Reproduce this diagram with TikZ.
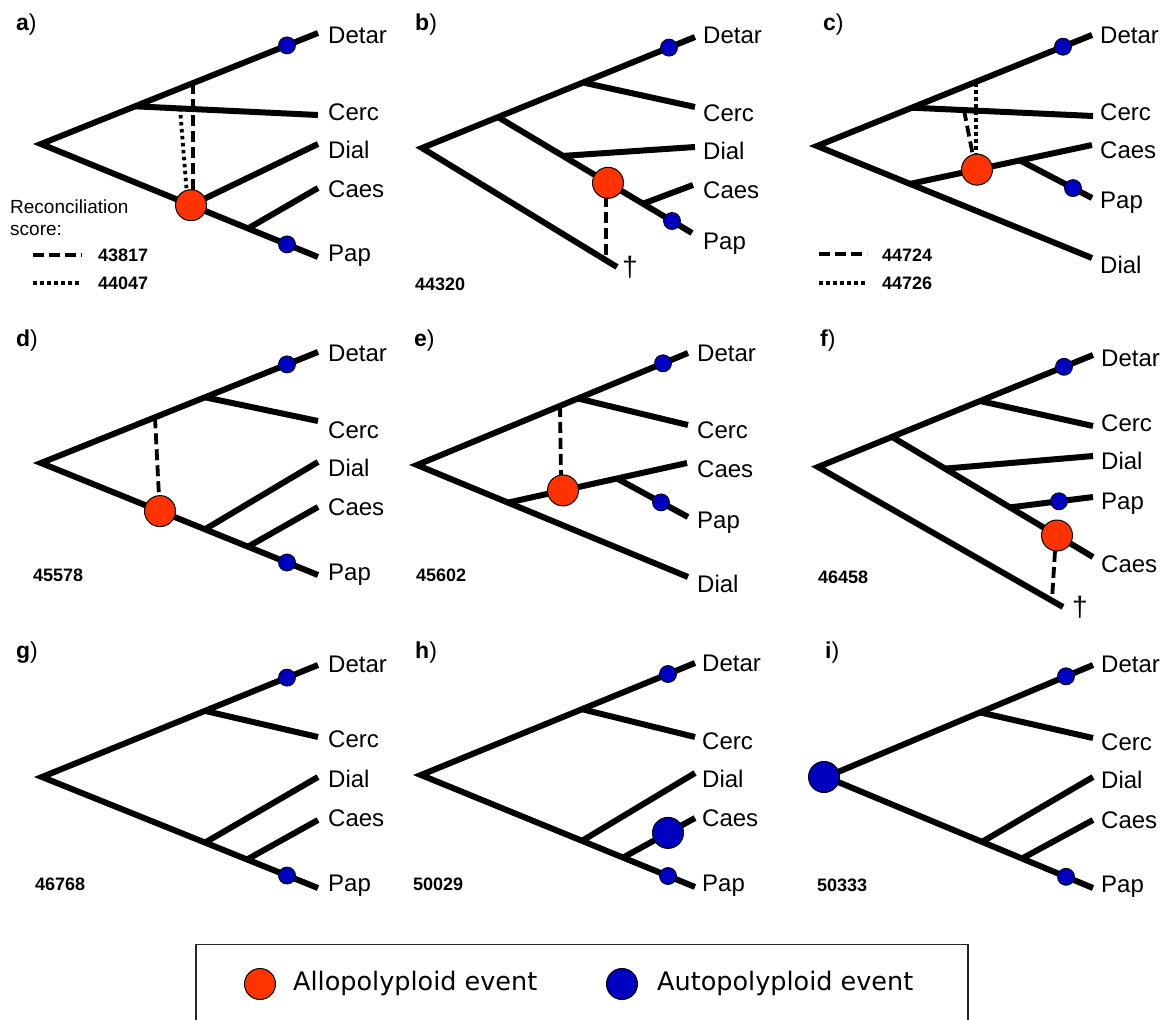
\documentclass[tikz,border=0pt]{standalone}
\usepackage{fontspec}
\setmainfont{Liberation Sans}
\newfontfamily\dejavu{DejaVu Sans}
\definecolor{allored}{RGB}{255,51,0}
\definecolor{autoblue}{RGB}{0,0,192}
\tikzset{
  br/.style={line width=6pt, line join=miter, line cap=butt},
  dlink/.style={line width=3.8pt, dash pattern=on 11pt off 5pt},
  olink/.style={line width=3.8pt, dash pattern=on 3.5pt off 3.5pt},
  sdot/.style={circle, draw=black, line width=0.8pt, fill=autoblue, minimum size=17pt, inner sep=0pt},
  bred/.style={circle, draw=black, line width=1pt, fill=allored, minimum size=31pt, inner sep=0pt},
  bblue/.style={circle, draw=black, line width=1pt, fill=autoblue, minimum size=31pt, inner sep=0pt},
  taxon/.style={anchor=west, inner sep=0pt, font=\fontsize{24}{28}\selectfont, text height=17.2pt, text depth=0pt},
  dagger/.style={anchor=west, inner sep=0pt, font=\fontsize{28}{32}\selectfont, text height=20pt, text depth=0pt},
  score/.style={anchor=west, inner sep=0pt, font=\bfseries\fontsize{18}{22}\selectfont, text height=12.9pt, text depth=0pt},
  plabel/.style={anchor=base west, inner sep=0pt, font=\fontsize{23}{27}\selectfont},
  recon/.style={anchor=west, inner sep=0pt, font=\fontsize{19}{23}\selectfont, text height=13.6pt, text depth=0pt},
  legtext/.style={anchor=west, inner sep=0pt, font=\dejavu\fontsize{25.5}{30}\selectfont, text height=18.6pt, text depth=0pt},
  legbox/.style={line width=1.2pt, draw=black!85}
}
\begin{document}
\begin{tikzpicture}[x=1pt,y=-1pt]
\useasboundingbox (0,0) rectangle (1168,1020);

% ================= panel a =================
\coordinate (aR) at (41,144);
\coordinate (aDe) at (318,33);
\coordinate (aCn) at (135,106.3);
\coordinate (aCe) at (318,115);
\coordinate (aPe) at (318,257);
\coordinate (aX) at (191,205.2);
\coordinate (aDie) at (318,144);
\coordinate (aCan) at (248,228.5);
\coordinate (aCae) at (318,188);
\coordinate (aU) at (193,83.1);
\coordinate (aXt) at (193,195);
\coordinate (aCd) at (180,108);
\coordinate (aXt2) at (187,195);
\draw[br] (aDe) -- (aR) -- (aPe);
\draw[br] (aCn) -- (aCe);
\draw[br] (aX) -- (aDie);
\draw[br] (aCan) -- (aCae);
\draw[olink] (aCd) -- (aXt2);
\draw[dlink] (aU) -- (aXt);
\node[bred] (aXn) at (aX) {};
\node[sdot] (aDd) at (287,45.4) {};
\node[sdot] (aPd) at (287,244.4) {};
\node[taxon] (aT1) at (328,34.5) {Detar};
\node[taxon] (aT2) at (328,112) {Cerc};
\node[taxon] (aT3) at (328,150) {Dial};
\node[taxon] (aT4) at (328,188.5) {Caes};
\node[taxon] (aT5) at (328,253) {Pap};
\node[plabel] (aL) at (16,30) {{\bfseries a})};
\node[recon] (aRc1) at (10,207) {Reconciliation};
\node[recon] (aRc2) at (10,229) {score:};
\coordinate (aK1a) at (33,255);
\coordinate (aK1b) at (82,255);
\coordinate (aK2a) at (33,283);
\coordinate (aK2b) at (82,283);
\draw[dlink] (aK1a) -- (aK1b);
\draw[olink] (aK2a) -- (aK2b);
\node[score] (aS1) at (98,255) {43817};
\node[score] (aS2) at (98,283) {44047};

% ================= panel b =================
\coordinate (bR) at (422,148);
\coordinate (bDe) at (695,37);
\coordinate (bCn) at (583,82.5);
\coordinate (bCe) at (695,107);
\coordinate (bIn) at (498,117.1);
\coordinate (bPe) at (692,233);
\coordinate (bDn) at (563,155.9);
\coordinate (bDie) at (695,147);
\coordinate (bX) at (608,182.8);
\coordinate (bCan) at (643,203.7);
\coordinate (bCae) at (693,185);
\coordinate (bLe) at (617,267);
\coordinate (bXb) at (606,196);
\coordinate (bLd) at (606,260);
\draw[br] (bDe) -- (bR) -- (bLe);
\draw[br] (bCn) -- (bCe);
\draw[br] (bIn) -- (bPe);
\draw[br] (bDn) -- (bDie);
\draw[br] (bCan) -- (bCae);
\draw[dlink] (bXb) -- (bLd);
\node[bred] (bXn) at (bX) {};
\node[sdot] (bDd) at (669,47.6) {};
\node[sdot] (bPd) at (672,221) {};
\node[taxon] (bT1) at (703,35.3) {Detar};
\node[taxon] (bT2) at (703,112.7) {Cerc};
\node[taxon] (bT3) at (703,151.3) {Dial};
\node[taxon] (bT4) at (703,190.3) {Caes};
\node[taxon] (bT5) at (703,241.3) {Pap};
\node[dagger] (bDag) at (622,266) {†};
\node[plabel] (bL) at (415,30) {{\bfseries b})};
\node[score] (bS) at (415,284) {44320};

% ================= panel c =================
\coordinate (cR) at (817,146);
\coordinate (cDe) at (1092,35);
\coordinate (cCn) at (912,107.7);
\coordinate (cCe) at (1093,116);
\coordinate (cLe) at (1092,258);
\coordinate (cIn) at (910,183.9);
\coordinate (cCae) at (1092,145);
\coordinate (cX) at (977,169.6);
\coordinate (cPn) at (1020,160.4);
\coordinate (cPe) at (1092,198);
\coordinate (cDa) at (964,110);
\coordinate (cDb) at (973,156);
\coordinate (cOa) at (976,83);
\coordinate (cOb) at (976,155);
\draw[br] (cDe) -- (cR) -- (cLe);
\draw[br] (cCn) -- (cCe);
\draw[br] (cIn) -- (cCae);
\draw[br] (cPn) -- (cPe);
\draw[dlink] (cDa) -- (cDb);
\draw[olink] (cOa) -- (cOb);
\node[bred] (cXn) at (cX) {};
\node[sdot] (cDd) at (1063,46.7) {};
\node[sdot] (cPd) at (1073,188.1) {};
\node[taxon] (cT1) at (1100,35.3) {Detar};
\node[taxon] (cT2) at (1100,112) {Cerc};
\node[taxon] (cT3) at (1100,150.3) {Caes};
\node[taxon] (cT4) at (1100,200.3) {Pap};
\node[taxon] (cT5) at (1100,265) {Dial};
\node[plabel] (cL) at (823,30) {{\bfseries c})};
\coordinate (cK1a) at (819,254);
\coordinate (cK1b) at (867,254);
\coordinate (cK2a) at (819,283);
\coordinate (cK2b) at (867,283);
\draw[dlink] (cK1a) -- (cK1b);
\draw[olink] (cK2a) -- (cK2b);
\node[score] (cS1) at (882,255) {44724};
\node[score] (cS2) at (882,283) {44726};

% ================= panel d =================
\coordinate (dR) at (41,463);
\coordinate (dDe) at (318,352);
\coordinate (dCn) at (205,397.3);
\coordinate (dCe) at (318,421);
\coordinate (dLe) at (318,575);
\coordinate (dX) at (160,511.1);
\coordinate (dDn) at (205,529.3);
\coordinate (dDie) at (318,462);
\coordinate (dCan) at (248,546.7);
\coordinate (dCae) at (318,507);
\coordinate (dDa) at (155,417.3);
\coordinate (dDb) at (159,497);
\draw[br] (dDe) -- (dR) -- (dLe);
\draw[br] (dCn) -- (dCe);
\draw[br] (dDn) -- (dDie);
\draw[br] (dCan) -- (dCae);
\draw[dlink] (dDa) -- (dDb);
\node[bred] (dXn) at (dX) {};
\node[sdot] (dDd) at (287,364.4) {};
\node[sdot] (dPd) at (287,562.5) {};
\node[taxon] (dT1) at (328,352.7) {Detar};
\node[taxon] (dT2) at (328,430) {Cerc};
\node[taxon] (dT3) at (328,468.3) {Dial};
\node[taxon] (dT4) at (328,506.7) {Caes};
\node[taxon] (dT5) at (328,572.3) {Pap};
\node[plabel] (dL) at (16,346) {{\bfseries d})};
\node[score] (dS) at (33,575) {45578};

% ================= panel e =================
\coordinate (eR) at (417,465);
\coordinate (eDe) at (688,353);
\coordinate (eCn) at (578,398.5);
\coordinate (eCe) at (688,425);
\coordinate (eLe) at (688,577);
\coordinate (eIn) at (508,502.6);
\coordinate (eCae) at (687,463);
\coordinate (eX) at (563,490.4);
\coordinate (ePn) at (617,478.5);
\coordinate (ePe) at (688,517);
\coordinate (eDa) at (560,406);
\coordinate (eDb) at (561,476);
\draw[br] (eDe) -- (eR) -- (eLe);
\draw[br] (eCn) -- (eCe);
\draw[br] (eIn) -- (eCae);
\draw[br] (ePn) -- (ePe);
\draw[dlink] (eDa) -- (eDb);
\node[bred] (eXn) at (eX) {};
\node[sdot] (eDd) at (663,363.3) {};
\node[sdot] (ePd) at (661,502.4) {};
\node[taxon] (eT1) at (697,353.3) {Detar};
\node[taxon] (eT2) at (697,430) {Cerc};
\node[taxon] (eT3) at (697,469.3) {Caes};
\node[taxon] (eT4) at (697,520) {Pap};
\node[taxon] (eT5) at (697,584.3) {Dial};
\node[plabel] (eL) at (414,346) {{\bfseries e})};
\node[score] (eS) at (416,575) {45602};

% ================= panel f =================
\coordinate (fR) at (818,467);
\coordinate (fDe) at (1093,355);
\coordinate (fCn) at (980,401);
\coordinate (fCe) at (1093,426);
\coordinate (fIn) at (892,436.9);
\coordinate (fCae) at (1093,557);
\coordinate (fDn) at (945,468.6);
\coordinate (fDie) at (1093,456);
\coordinate (fPn) at (1010,507.4);
\coordinate (fPe) at (1093,497);
\coordinate (fX) at (1057,535.5);
\coordinate (fLe) at (1063,607);
\coordinate (fDa) at (1055,551);
\coordinate (fDb) at (1052,600);
\draw[br] (fDe) -- (fR) -- (fLe);
\draw[br] (fCn) -- (fCe);
\draw[br] (fIn) -- (fCae);
\draw[br] (fDn) -- (fDie);
\draw[br] (fPn) -- (fPe);
\draw[dlink] (fDa) -- (fDb);
\node[bred] (fXn) at (fX) {};
\node[sdot] (fDd) at (1064,366.8) {};
\node[sdot] (fPd) at (1059,501.3) {};
\node[taxon] (fT1) at (1101,357.7) {Detar};
\node[taxon] (fT2) at (1101,422.7) {Cerc};
\node[taxon] (fT3) at (1101,461) {Dial};
\node[taxon] (fT4) at (1101,501) {Pap};
\node[taxon] (fT5) at (1101,564.3) {Caes};
\node[dagger] (fDag) at (1072,606) {†};
\node[plabel] (fL) at (820,346) {{\bfseries f})};
\node[score] (fS) at (818,577) {46458};

% ================= panel g =================
\coordinate (gR) at (42,777);
\coordinate (gDe) at (318,665);
\coordinate (gCn) at (205,710.9);
\coordinate (gCe) at (318,737);
\coordinate (gLe) at (318,888);
\coordinate (gDn) at (205,842.6);
\coordinate (gDie) at (318,777);
\coordinate (gCan) at (247,859.5);
\coordinate (gCae) at (318,820);
\draw[br] (gDe) -- (gR) -- (gLe);
\draw[br] (gCn) -- (gCe);
\draw[br] (gDn) -- (gDie);
\draw[br] (gCan) -- (gCae);
\node[sdot] (gDd) at (287,677.6) {};
\node[sdot] (gPd) at (287,875.5) {};
\node[taxon] (gT1) at (328,664.3) {Detar};
\node[taxon] (gT2) at (328,739.3) {Cerc};
\node[taxon] (gT3) at (328,779.3) {Dial};
\node[taxon] (gT4) at (328,818) {Caes};
\node[taxon] (gT5) at (328,882.7) {Pap};
\node[plabel] (gL) at (16,658) {{\bfseries g})};
\node[score] (gS) at (35,884) {46768};

% ================= panel h =================
\coordinate (hR) at (421,775);
\coordinate (hDe) at (695,663);
\coordinate (hCn) at (582,709.2);
\coordinate (hCe) at (695,737);
\coordinate (hLe) at (695,887);
\coordinate (hDn) at (582,840.8);
\coordinate (hDie) at (695,773);
\coordinate (hCan) at (623,857.6);
\coordinate (hCae) at (695,818);
\draw[br] (hDe) -- (hR) -- (hLe);
\draw[br] (hCn) -- (hCe);
\draw[br] (hDn) -- (hDie);
\draw[br] (hCan) -- (hCae);
\node[bblue] (hBig) at (668,832.9) {};
\node[sdot] (hDd) at (668,674) {};
\node[sdot] (hPd) at (668,876) {};
\node[taxon] (hT1) at (702,663.3) {Detar};
\node[taxon] (hT2) at (702,740.7) {Cerc};
\node[taxon] (hT3) at (702,779.3) {Dial};
\node[taxon] (hT4) at (702,818) {Caes};
\node[taxon] (hT5) at (702,882.7) {Pap};
\node[plabel] (hL) at (415,658) {{\bfseries h})};
\node[score] (hS) at (413,884) {50029};

% ================= panel i =================
\coordinate (iR) at (826,777);
\coordinate (iDe) at (1093,665);
\coordinate (iCn) at (980,712.4);
\coordinate (iCe) at (1093,738);
\coordinate (iLe) at (1093,888);
\coordinate (iDn) at (982,841.9);
\coordinate (iDie) at (1093,777);
\coordinate (iCan) at (1022,858.5);
\coordinate (iCae) at (1093,820);
\draw[br] (iDe) -- (iR) -- (iLe);
\draw[br] (iCn) -- (iCe);
\draw[br] (iDn) -- (iDie);
\draw[br] (iCan) -- (iCae);
\node[bblue] (iBig) at (824,777) {};
\node[sdot] (iDd) at (1066,676.3) {};
\node[sdot] (iPd) at (1066,876.8) {};
\node[taxon] (iT1) at (1101,664.3) {Detar};
\node[taxon] (iT2) at (1101,742) {Cerc};
\node[taxon] (iT3) at (1101,780.3) {Dial};
\node[taxon] (iT4) at (1101,820.3) {Caes};
\node[taxon] (iT5) at (1101,884.3) {Pap};
\node[plabel] (iL) at (825,658) {{\bfseries i})};
\node[score] (iS) at (817,885) {50333};

% ================= legend =================
\coordinate (kBL) at (196,1021);
\coordinate (kTL) at (196,944.5);
\coordinate (kTR) at (968,944.5);
\coordinate (kBR) at (968,1021);
\draw[legbox] (kBL) -- (kTL) -- (kTR) -- (kBR);
\node[bred] (kRed) at (260,984) {};
\node[legtext] (kRedT) at (293,981) {Allopolyploid event};
\node[bblue] (kBlue) at (622,984) {};
\node[legtext] (kBlueT) at (657,981) {Autopolyploid event};
\end{tikzpicture}
\end{document}
